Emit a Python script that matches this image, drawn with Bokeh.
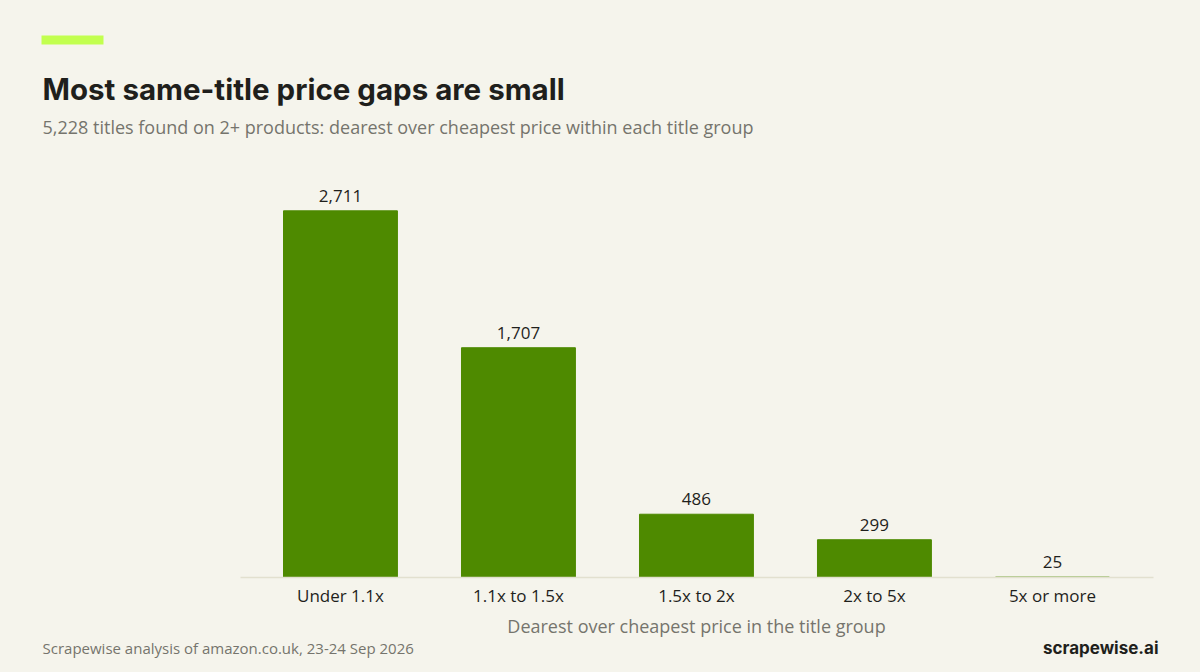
from bokeh.core.properties import value
from bokeh.embed import file_html
from bokeh.layouts import column
from bokeh.models import BoxAnnotation, ColumnDataSource, FixedTicker, Label, Range1d
from bokeh.plotting import figure
from bokeh.resources import INLINE

# data
ratio_bands = ["Under 1.1x", "1.1x to 1.5x", "1.5x to 2x", "2x to 5x", "5x or more"]
title_counts = [2711, 1707, 486, 299, 25]
count_labels = ["2,711", "1,707", "486", "299", "25"]

title = "Most same-title price gaps are small"
subtitle = "5,228 titles found on 2+ products: dearest over cheapest price within each title group"
x_title = "Dearest over cheapest price in the title group"
source_note = "Scrapewise analysis of amazon.co.uk, 23-24 Sep 2026"
brand = "scrapewise.ai"

BG = "#f5f4ec"
GREEN = "#4e8a00"
LIME = "#c2ff4f"
INK = "#1f1f1c"
GREY = "#75746d"
FONT = "Open Sans"
W = 1184


def text_strip(height, top):
    """Axis-less figure whose data coords equal page pixels (y grows downward)."""
    f = figure(
        width=W, height=height, output_backend="svg", toolbar_location=None,
        x_range=Range1d(0, W), y_range=Range1d(top + height, top),
        x_axis_type=None, y_axis_type=None, min_border=0,
    )
    f.background_fill_color = BG
    f.border_fill_color = BG
    f.outline_line_color = None
    return f


# header: accent bar, title, subtitle
head = text_strip(160, 0)
head.add_layout(BoxAnnotation(left=41, right=103, top=35, bottom=44,
                              fill_color=LIME, fill_alpha=1, line_color=None))
head.add_layout(Label(x=42, y=88, text=title, text_baseline="middle",
                      text_font="Inter", text_font_style="bold", text_font_size="29.5px",
                      text_color=INK))
head.add_layout(Label(x=42, y=126, text=subtitle, text_baseline="middle",
                      text_font=FONT, text_font_size="18px", text_color=GREY))

# main bar chart; frame spans the full width so all three strips line up
slot = list(range(len(ratio_bands)))
source = ColumnDataSource(dict(slot=slot, count=title_counts, label=count_labels))
p = figure(
    x_range=Range1d(-1.91, 4.742),
    y_range=Range1d(22, 3080),
    width=W,
    height=450,
    output_backend="svg",
    toolbar_location=None,
    min_border_left=0,
    min_border_right=0,
    min_border_top=0,
    min_border_bottom=33,
)
p.background_fill_color = BG
p.border_fill_color = BG
p.outline_line_color = None
p.xgrid.grid_line_color = None
p.ygrid.grid_line_color = None
p.yaxis.visible = False

p.vbar(x="slot", top="count", width=0.64, source=source, fill_color=GREEN, line_color=GREEN)
p.text(
    x="slot", y="count", text="label", source=source,
    text_align="center", text_baseline="bottom", y_offset=-9,
    text_font=value(FONT), text_font_size="17px", text_color=INK,
)

ax = p.xaxis[0]
ax.ticker = FixedTicker(ticks=slot)
ax.major_label_overrides = dict(zip(slot, ratio_bands))
ax.bounds = (-0.562, 4.567)
ax.axis_line_color = "#e2e0cf"
ax.axis_line_width = 1.5
ax.major_tick_line_color = None
ax.minor_tick_line_color = None
ax.major_label_standoff = 0
ax.major_label_text_font = FONT
ax.major_label_text_font_size = "17px"
ax.major_label_text_color = INK

# axis title (centred under the bars, not the full-width frame) and footer
foot = text_strip(54, 610)
foot.add_layout(Label(x=696, y=625, text=x_title, text_baseline="middle", text_align="center",
                      text_font=FONT, text_font_size="18px", text_color=GREY))
foot.add_layout(Label(x=42, y=647, text=source_note, text_baseline="middle",
                      text_font=FONT, text_font_size="15px", text_color=GREY))
foot.add_layout(Label(x=1158, y=647, text=brand, text_baseline="middle", text_align="right",
                      text_font="Inter", text_font_style="bold", text_font_size="17px",
                      text_color=INK))

page = column(head, p, foot, spacing=0)
html = file_html(page, INLINE)
html = html.replace("<head>", "<head><style>body{background:%s}</style>" % BG, 1)
open("out.html", "w").write(html)
